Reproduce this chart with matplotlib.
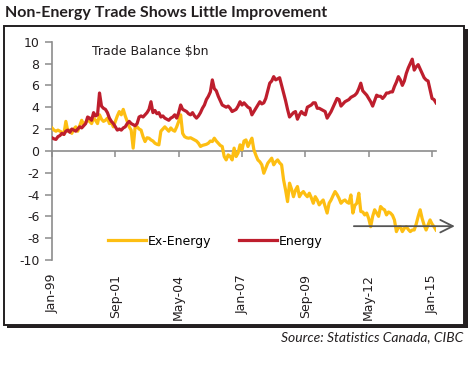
import matplotlib
matplotlib.use("Agg")
import matplotlib.pyplot as plt
from matplotlib.patches import Rectangle
import numpy as np

plt.rcParams['font.family'] = ['DejaVu Sans']
plt.rcParams['axes.unicode_minus'] = False

# Monthly trade balance, $bn, Jan-1999 .. Mar-2015
energy = [
    1.2, 1.1, 1.05, 1.3, 1.4, 1.6, 1.5, 1.8, 1.9, 1.7,
    2.0, 1.9, 1.8, 2.0, 2.2, 2.1, 2.3, 2.5, 3.1, 3.0,
    2.8, 3.5, 3.2, 3.3, 5.3, 4.1, 3.9, 3.8, 3.5, 3.0,
    2.7, 2.5, 2.2, 1.9, 2.0, 1.9, 2.1, 2.2, 2.5, 2.7,
    2.5, 2.4, 2.3, 2.5, 3.1, 3.2, 3.1, 3.3, 3.5, 3.8,
    4.5, 3.5, 3.7, 3.4, 3.5, 3.1, 3.2, 3.0, 2.9, 2.8,
    3.0, 3.1, 3.3, 3.0, 3.5, 4.2, 3.8, 3.7, 3.6, 3.4,
    3.3, 3.5, 3.2, 3.0, 3.2, 3.5, 3.9, 4.2, 4.7, 5.0,
    5.4, 6.5, 5.7, 5.5, 5.0, 4.6, 4.2, 4.1, 4.0, 4.1,
    3.9, 3.6, 3.7, 3.8, 4.1, 4.5, 4.2, 4.4, 4.2, 4.0,
    3.9, 3.3, 3.6, 3.9, 4.2, 4.5, 4.3, 4.4, 4.8, 5.5,
    6.2, 6.4, 6.8, 6.5, 6.6, 6.7, 6.0, 5.3, 4.6, 3.8,
    3.1, 3.3, 3.5, 3.6, 2.9, 3.3, 3.6, 3.4, 3.3, 4.0,
    4.1, 4.2, 4.4, 4.4, 3.9, 3.9, 3.8, 3.7, 3.6, 3.0,
    3.3, 3.6, 4.0, 4.4, 4.8, 4.7, 4.1, 4.3, 4.5, 4.6,
    4.7, 4.9, 5.0, 5.1, 5.3, 5.7, 6.2, 5.5, 5.3, 5.1,
    4.8, 4.5, 4.1, 4.6, 5.1, 5.0, 5.0, 4.8, 5.0, 5.3,
    5.3, 5.4, 5.4, 5.9, 6.3, 6.8, 6.5, 6.0, 6.4, 7.1,
    7.6, 8.0, 8.4, 7.4, 7.7, 7.9, 7.5, 7.1, 6.7, 6.5,
    6.4, 5.6, 4.8, 4.7, 4.4,
]

ex_energy = [
    2.1, 1.9, 1.8, 1.9, 1.8, 1.7, 1.5, 2.7, 1.8, 1.9,
    1.6, 2.0, 2.2, 1.8, 2.3, 2.8, 2.4, 2.6, 2.8, 2.7,
    2.5, 3.0, 2.8, 2.5, 3.3, 2.9, 2.7, 2.8, 3.0, 2.5,
    2.6, 2.2, 2.7, 3.2, 3.6, 3.3, 3.8, 3.2, 2.7, 2.2,
    1.9, 0.25, 2.2, 2.2, 2.0, 1.9, 1.3, 0.85, 1.2, 1.16,
    1.0, 0.9, 0.7, 0.6, 0.55, 1.8, 2.0, 2.2, 2.0, 1.8,
    2.1, 1.9, 1.8, 2.2, 2.7, 3.3, 1.6, 1.3, 1.2, 1.16,
    1.2, 1.1, 1.0, 0.9, 0.7, 0.4, 0.5, 0.55, 0.6, 0.7,
    0.9, 0.85, 1.16, 0.9, 0.7, 0.5, 0.4, -0.52, -0.83, -0.37,
    -0.5, -0.83, 0.25, -0.52, -0.2, 0.55, 0.1, 0.9, 1.0, 0.4,
    0.8, 1.16, 0.1, -0.4, -0.83, -1.0, -1.28, -2.05, -1.6, -1.13,
    -0.9, -0.67, -1.28, -1.0, -0.83, -1.1, -1.28, -2.66, -3.58, -4.65,
    -2.96, -3.5, -4.2, -3.6, -3.27, -4.2, -3.9, -3.73, -4.0, -4.2,
    -3.88, -4.3, -4.8, -4.2, -4.5, -4.95, -4.7, -4.5, -5.1, -5.7,
    -4.8, -4.5, -4.1, -3.73, -4.0, -4.35, -4.8, -4.6, -4.5, -4.7,
    -4.8, -4.04, -5.7, -5.0, -4.8, -3.88, -5.56, -5.6, -5.87, -5.7,
    -6.2, -6.95, -6.0, -5.4, -5.7, -6.0, -5.1, -5.3, -5.4, -5.87,
    -5.6, -5.7, -5.9, -6.33, -7.4, -7.0, -6.95, -7.4, -7.1, -6.95,
    -7.2, -7.4, -7.25, -7.25, -6.7, -6.0, -5.4, -6.2, -6.8, -7.25,
    -6.8, -6.33, -6.7, -6.95, -7.25,
]

tick_labels = ["Jan-99", "Sep-01", "May-04", "Jan-07", "Sep-09", "May-12", "Jan-15"]
tick_months = [0, 32, 64, 96, 128, 160, 192]
y_ticks = [10, 8, 6, 4, 2, 0, -2, -4, -6, -8, -10]
arrow_level = -6.9
arrow_span = (152.5, 203.5)

months = np.arange(len(energy))

W, H = 477, 371
fig = plt.figure(figsize=(W / 100, H / 100), dpi=100)

def fx(px):
    return px / W

def fy(py):
    return 1 - py / H

# frame with drop shadow (behind the axes)
fig.add_artist(Rectangle((fx(7), fy(328)), fx(468) - fx(7), fy(29) - fy(328),
                         transform=fig.transFigure, facecolor='#231f20',
                         edgecolor='none', zorder=-3))
fig.add_artist(Rectangle((fx(4), fy(325)), fx(464) - fx(4), fy(26) - fy(325),
                         transform=fig.transFigure, facecolor='white',
                         edgecolor='#231f20', linewidth=1.4, zorder=-2))

fig.text(fx(5), fy(13), "Non-Energy Trade Shows Little Improvement",
         fontsize=11.5, fontweight='bold', family='Lato', color='#231f20',
         ha='left', va='center')
fig.text(fx(463), fy(337), "Source: Statistics Canada, CIBC",
         fontsize=10, style='italic', family='Lato', color='#231f20',
         ha='right', va='center')

ax = fig.add_axes([fx(52), fy(260), fx(436) - fx(52), fy(41.7) - fy(260)])
ax.patch.set_alpha(0)

yellow = '#FDBE12'
red = '#BE1E2D'
gray = '#8C8C8C'

ax.plot(months, ex_energy, color=yellow, lw=2.3, solid_joinstyle='round',
        label='Ex-Energy', zorder=3)
ax.plot(months, energy, color=red, lw=2.3, solid_joinstyle='round',
        label='Energy', zorder=3)

ax.set_xlim(0, len(energy) - 1)
ax.set_ylim(-10, 10)
ax.set_yticks(y_ticks)
ax.set_yticklabels([str(v) for v in y_ticks])

for s in ['top', 'right', 'bottom']:
    ax.spines[s].set_visible(False)
ax.spines['left'].set_color(gray)
ax.spines['left'].set_linewidth(1.2)
ax.tick_params(axis='y', direction='out', length=5, width=1.1, color=gray,
               labelsize=9, pad=4, labelcolor='#231f20')

ax.set_xticks(tick_months)
ax.set_xticklabels(tick_labels, rotation=90, ha='center', va='top')
ax.tick_params(axis='x', length=0, pad=10, labelsize=9, labelcolor='#231f20')

sec = ax.secondary_xaxis(0, transform=ax.transData)
sec.set_xticks(tick_months)
sec.set_xticklabels([])
sec.spines['bottom'].set_color(gray)
sec.spines['bottom'].set_linewidth(1.2)
sec.tick_params(axis='x', direction='out', length=4.5, width=1.1, color=gray)

ax.text(0.105, 0.955, "Trade Balance $bn", transform=ax.transAxes,
        fontsize=9, color='#231f20', ha='left', va='center')

ax.annotate("", xy=(arrow_span[1], arrow_level), xytext=(arrow_span[0], arrow_level),
            xycoords='data', textcoords='data', annotation_clip=False,
            arrowprops=dict(arrowstyle='->,head_length=0.9,head_width=0.45',
                            color='#555555', lw=1.3, shrinkA=0, shrinkB=0),
            zorder=4)

ax.legend(ncol=2, loc='center left', bbox_to_anchor=(fx(108), fy(241)),
          bbox_transform=fig.transFigure, frameon=False, fontsize=9,
          handlelength=3.0, handletextpad=0.2, columnspacing=2.2,
          borderpad=0, borderaxespad=0)

fig.savefig("out.png", dpi=100)
